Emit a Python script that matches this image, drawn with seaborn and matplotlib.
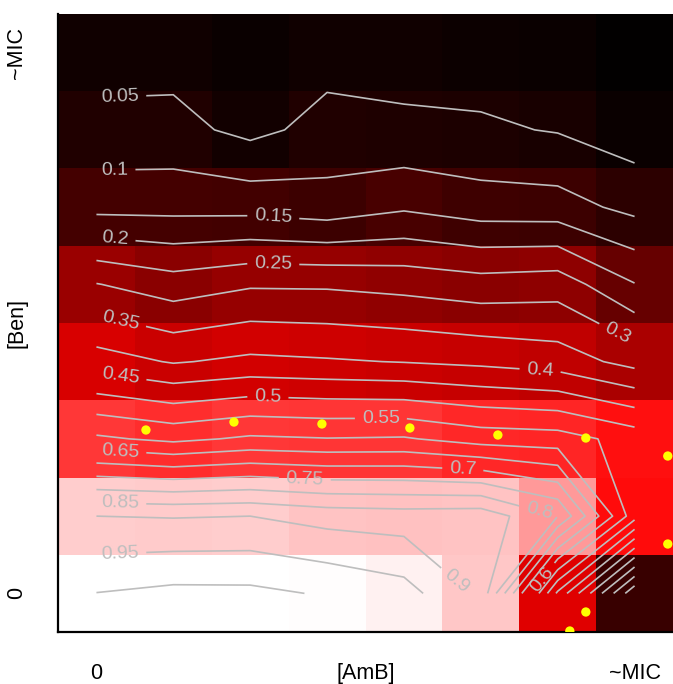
import matplotlib
matplotlib.use("Agg")
import matplotlib.pyplot as plt
from matplotlib.colors import LinearSegmentedColormap
import seaborn as sns
import pandas as pd
import numpy as np

# growth relative to control, rows = [Ben] from ~MIC (top) down to 0,
# columns = [AmB] from 0 to ~MIC
col_0 = [0.032, 0.063, 0.134, 0.302, 0.423, 0.609, 0.900, 1.001]
col_1 = [0.032, 0.065, 0.134, 0.273, 0.396, 0.588, 0.897, 1.013]
col_2 = [0.020, 0.037, 0.132, 0.294, 0.411, 0.608, 0.900, 1.012]
col_3 = [0.033, 0.066, 0.121, 0.293, 0.405, 0.602, 0.881, 0.995]
col_4 = [0.032, 0.059, 0.143, 0.284, 0.398, 0.605, 0.875, 0.970]
col_5 = [0.027, 0.057, 0.123, 0.271, 0.389, 0.578, 0.880, 0.890]
col_6 = [0.020, 0.047, 0.120, 0.278, 0.375, 0.572, 0.800, 0.440]
col_7 = [0.005, 0.023, 0.086, 0.202, 0.333, 0.530, 0.520, 0.110]

levels = [0.05, 0.1, 0.15, 0.2, 0.25, 0.3, 0.35, 0.4, 0.45, 0.5,
          0.55, 0.6, 0.65, 0.7, 0.75, 0.8, 0.85, 0.9, 0.95, 1.0]
labelled_levels = levels[:-1]

# MIC points (in cell units: x from left, y from top)
mic_x = [1.144, 2.289, 3.433, 4.577, 5.722, 6.866, 7.932, 7.932, 6.866, 6.658]
mic_y = [5.385, 5.282, 5.307, 5.359, 5.450, 5.489, 5.722, 6.861, 7.741, 7.987]

x_labels = ["0", "[AmB]", "~MIC"]
y_labels = ["~MIC", "[Ben]", "0"]

grid = pd.DataFrame(np.column_stack([col_0, col_1, col_2, col_3,
                                     col_4, col_5, col_6, col_7]))

cmap = LinearSegmentedColormap.from_list("bkrw", ["black", "red", "white"])

plt.rcParams["font.family"] = ["Liberation Sans", "DejaVu Sans"]

fig = plt.figure(figsize=(6.73, 6.84), dpi=100)
ax = fig.add_axes([58 / 673, 52 / 684, 615 / 673, 618 / 684])

sns.heatmap(grid, cmap=cmap, vmin=0, vmax=1, cbar=False, ax=ax)

# contour over the cell centres
centres = np.arange(grid.shape[1]) + 0.5
cs = ax.contour(centres, np.arange(grid.shape[0]) + 0.5, grid.values,
                levels=levels, colors="#BEBEBE", linewidths=1.2)

# where R put the labels
label_spots = [(0.81, 1.07), (0.74, 2.02), (2.80, 2.64), (0.74, 2.93),
               (2.80, 3.25), (7.28, 4.13), (0.81, 3.99), (6.27, 4.63),
               (0.81, 4.72), (2.73, 4.97), (4.20, 5.26), (6.31, 7.33),
               (0.81, 5.68), (5.27, 5.81), (3.21, 6.03), (6.27, 6.39),
               (0.81, 6.33), (5.19, 7.34), (0.81, 6.96)]
ax.clabel(cs, levels=labelled_levels, fmt="%g", fontsize=14,
          colors="#BEBEBE", inline=True, inline_spacing=7,
          manual=label_spots)

sns.scatterplot(x=mic_x, y=mic_y, color="#FFFF00", s=45, edgecolor="none",
                ax=ax, zorder=5, legend=False)

ax.set_xlim(0, 8)
ax.set_ylim(8, 0)
ax.set_xticks([0.5, 4.0, 7.5])
ax.set_xticklabels(x_labels, fontsize=15.5)
ax.set_yticks([0.5, 4.0, 7.5])
ax.set_yticklabels(y_labels, fontsize=15.5, rotation=90, va="center")
ax.tick_params(axis="x", length=0, pad=22)
ax.tick_params(axis="y", length=0, pad=22)
ax.set_xlabel("")
ax.set_ylabel("")

for side in ["top", "right"]:
    ax.spines[side].set_visible(False)
for side in ["left", "bottom"]:
    ax.spines[side].set_visible(True)
    ax.spines[side].set_color("black")
    ax.spines[side].set_linewidth(1.6)

fig.savefig("out.png", dpi=100)
